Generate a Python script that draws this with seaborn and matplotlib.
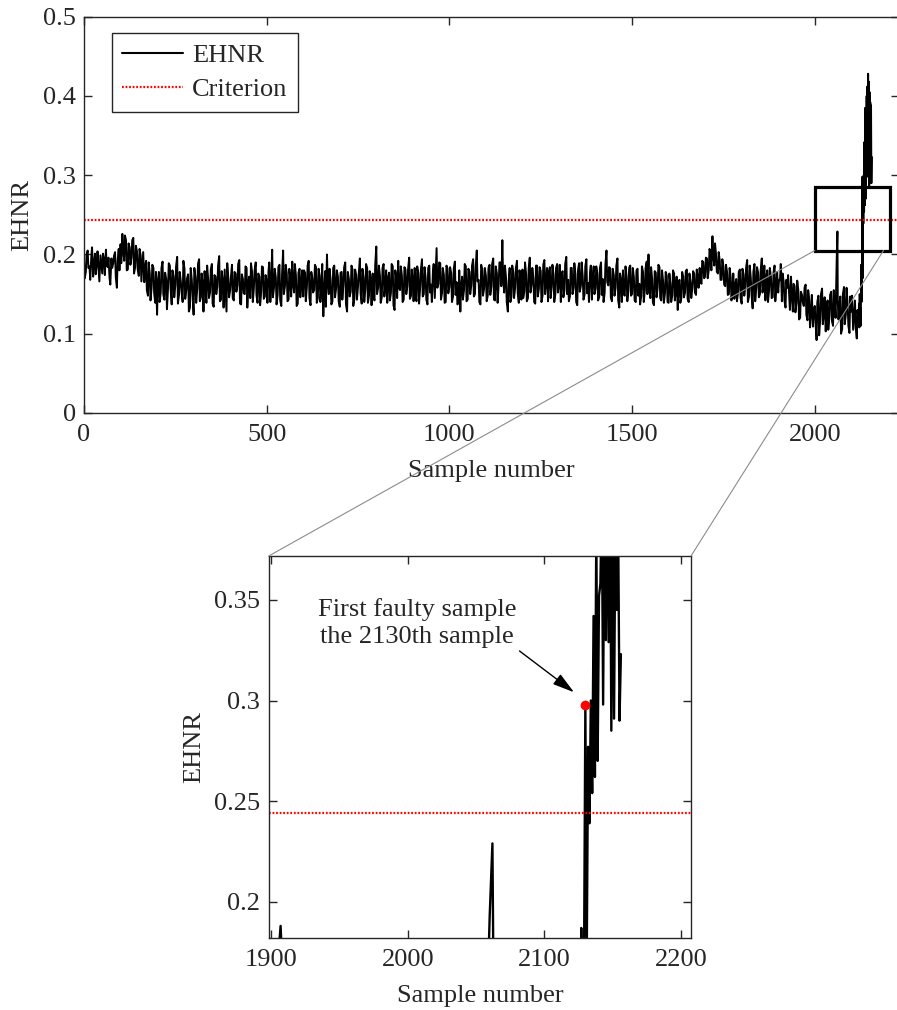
import numpy as np
import pandas as pd
import matplotlib
matplotlib.use("Agg")
import matplotlib.pyplot as plt
import seaborn as sns
from matplotlib.patches import Rectangle, ConnectionPatch
from matplotlib.lines import Line2D
from matplotlib.ticker import FuncFormatter

# ---------------- data ----------------
# EHNR read at samples 0, 5, 10, ..., 2120
ehnr_on5 = [
    0.192, 0.178, 0.205, 0.185, 0.197, 0.172, 0.201, 0.188, 0.181, 0.199, 0.176, 0.193, 0.206, 0.184, 0.170, 0.195, 0.189, 0.203, 0.158, 0.207,
    0.213, 0.226, 0.192, 0.218, 0.181, 0.209, 0.196, 0.221, 0.184, 0.204, 0.173, 0.199, 0.188, 0.165, 0.192, 0.148, 0.176, 0.158, 0.183, 0.139,
    0.124, 0.178, 0.152, 0.191, 0.143, 0.169, 0.158, 0.186, 0.137, 0.172, 0.161, 0.197, 0.149, 0.166, 0.140, 0.182, 0.155, 0.175, 0.133, 0.168,
    0.124, 0.171, 0.157, 0.194, 0.146, 0.163, 0.179, 0.139, 0.168, 0.152, 0.188, 0.134, 0.172, 0.160, 0.198, 0.143, 0.165, 0.181, 0.128, 0.170,
    0.155, 0.187, 0.142, 0.176, 0.161, 0.193, 0.137, 0.169, 0.150, 0.183, 0.164, 0.145, 0.178, 0.158, 0.190, 0.139, 0.172, 0.153, 0.184, 0.147,
    0.166, 0.179, 0.140, 0.206, 0.158, 0.171, 0.149, 0.187, 0.135, 0.205, 0.160, 0.176, 0.143, 0.168, 0.191, 0.152, 0.174, 0.138, 0.182, 0.163,
    0.147, 0.177, 0.159, 0.192, 0.136, 0.170, 0.155, 0.184, 0.145, 0.173, 0.161, 0.122, 0.179, 0.200, 0.150, 0.168, 0.141, 0.186, 0.157, 0.172,
    0.134, 0.178, 0.162, 0.190, 0.128, 0.169, 0.153, 0.181, 0.144, 0.174, 0.160, 0.195, 0.138, 0.171, 0.156, 0.183, 0.148, 0.165, 0.176, 0.142,
    0.210, 0.158, 0.173, 0.146, 0.188, 0.162, 0.139, 0.177, 0.151, 0.185, 0.130, 0.169, 0.192, 0.155, 0.174, 0.143, 0.181, 0.160, 0.196, 0.148,
    0.167, 0.183, 0.141, 0.176, 0.158, 0.194, 0.150, 0.171, 0.137, 0.186, 0.162, 0.178, 0.145, 0.208, 0.163, 0.189, 0.152, 0.174, 0.140, 0.182,
    0.159, 0.176, 0.147, 0.191, 0.165, 0.139, 0.128, 0.172, 0.155, 0.185, 0.143, 0.178, 0.161, 0.194, 0.150, 0.205, 0.168, 0.137, 0.181, 0.157,
    0.173, 0.148, 0.187, 0.160, 0.195, 0.142, 0.176, 0.163, 0.190, 0.218, 0.152, 0.171, 0.128, 0.183, 0.147, 0.177, 0.158, 0.192, 0.139, 0.169,
    0.181, 0.153, 0.175, 0.145, 0.196, 0.162, 0.170, 0.138, 0.186, 0.157, 0.179, 0.148, 0.193, 0.166, 0.141, 0.184, 0.159, 0.175, 0.150, 0.188,
    0.163, 0.140, 0.179, 0.155, 0.197, 0.168, 0.147, 0.183, 0.158, 0.175, 0.136, 0.189, 0.161, 0.172, 0.149, 0.194, 0.164, 0.178, 0.143, 0.185,
    0.157, 0.176, 0.146, 0.190, 0.169, 0.152, 0.205, 0.161, 0.183, 0.141, 0.174, 0.158, 0.195, 0.133, 0.167, 0.180, 0.148, 0.172, 0.155, 0.186,
    0.150, 0.171, 0.140, 0.182, 0.163, 0.147, 0.178, 0.155, 0.191, 0.200, 0.145, 0.169, 0.136, 0.177, 0.158, 0.184, 0.142, 0.166, 0.151, 0.173,
    0.139, 0.163, 0.148, 0.176, 0.155, 0.130, 0.168, 0.145, 0.172, 0.152, 0.181, 0.140, 0.165, 0.158, 0.176, 0.149, 0.170, 0.183, 0.163, 0.190,
    0.172, 0.195, 0.181, 0.201, 0.223, 0.186, 0.199, 0.176, 0.192, 0.168, 0.185, 0.160, 0.178, 0.150, 0.171, 0.156, 0.144, 0.169, 0.152, 0.181,
    0.138, 0.175, 0.160, 0.193, 0.147, 0.170, 0.132, 0.188, 0.158, 0.177, 0.150, 0.195, 0.163, 0.142, 0.180, 0.155, 0.172, 0.146, 0.186, 0.160,
    0.152, 0.170, 0.141, 0.165, 0.133, 0.158, 0.146, 0.172, 0.128, 0.160, 0.139, 0.155, 0.120, 0.149, 0.135, 0.162, 0.117, 0.143, 0.128, 0.109,
    0.135, 0.092, 0.148, 0.118, 0.157, 0.126, 0.103, 0.142, 0.121, 0.153, 0.110, 0.138, 0.193, 0.118, 0.147, 0.106, 0.159, 0.124, 0.137, 0.101,
    0.128, 0.105, 0.142, 0.094, 0.115,
]
# EHNR read at samples 2, 7, 12, ..., 2117
ehnr_on5_plus2 = [
    0.170, 0.199, 0.183, 0.168, 0.209, 0.186, 0.175, 0.204, 0.166, 0.190, 0.201, 0.174, 0.187, 0.196, 0.162, 0.183, 0.198, 0.171, 0.192, 0.180,
    0.189, 0.205, 0.224, 0.180, 0.214, 0.187, 0.218, 0.176, 0.211, 0.181, 0.207, 0.166, 0.203, 0.184, 0.155, 0.190, 0.142, 0.187, 0.151, 0.178,
    0.165, 0.140, 0.183, 0.150, 0.177, 0.131, 0.189, 0.157, 0.180, 0.146, 0.185, 0.138, 0.178, 0.153, 0.192, 0.144, 0.170, 0.128, 0.183, 0.149,
    0.183, 0.139, 0.188, 0.141, 0.176, 0.128, 0.161, 0.186, 0.145, 0.181, 0.138, 0.174, 0.150, 0.186, 0.141, 0.179, 0.133, 0.160, 0.189, 0.146,
    0.171, 0.145, 0.178, 0.153, 0.188, 0.138, 0.175, 0.151, 0.185, 0.133, 0.172, 0.189, 0.140, 0.180, 0.149, 0.176, 0.136, 0.185, 0.144, 0.174,
    0.139, 0.190, 0.160, 0.146, 0.182, 0.137, 0.184, 0.142, 0.175, 0.150, 0.187, 0.141, 0.182, 0.147, 0.163, 0.188, 0.135, 0.177, 0.146, 0.180,
    0.180, 0.141, 0.186, 0.145, 0.178, 0.152, 0.187, 0.139, 0.182, 0.140, 0.188, 0.150, 0.134, 0.165, 0.182, 0.137, 0.183, 0.146, 0.180, 0.141,
    0.177, 0.143, 0.184, 0.137, 0.178, 0.147, 0.186, 0.135, 0.181, 0.143, 0.176, 0.151, 0.182, 0.140, 0.188, 0.139, 0.179, 0.136, 0.150, 0.187,
    0.150, 0.186, 0.139, 0.183, 0.147, 0.180, 0.170, 0.142, 0.188, 0.136, 0.180, 0.145, 0.158, 0.185, 0.140, 0.184, 0.150, 0.182, 0.144, 0.181,
    0.141, 0.150, 0.185, 0.138, 0.181, 0.147, 0.184, 0.143, 0.183, 0.152, 0.140, 0.188, 0.170, 0.158, 0.190, 0.143, 0.183, 0.139, 0.186, 0.151,
    0.184, 0.140, 0.182, 0.149, 0.137, 0.180, 0.161, 0.143, 0.188, 0.141, 0.182, 0.150, 0.186, 0.147, 0.185, 0.166, 0.140, 0.187, 0.148, 0.183,
    0.141, 0.183, 0.149, 0.188, 0.143, 0.185, 0.139, 0.190, 0.160, 0.170, 0.186, 0.140, 0.165, 0.140, 0.186, 0.145, 0.183, 0.151, 0.180, 0.143,
    0.145, 0.190, 0.141, 0.182, 0.152, 0.183, 0.140, 0.186, 0.147, 0.184, 0.140, 0.187, 0.150, 0.183, 0.178, 0.145, 0.187, 0.140, 0.183, 0.152,
    0.187, 0.176, 0.146, 0.188, 0.150, 0.141, 0.183, 0.150, 0.189, 0.140, 0.180, 0.153, 0.190, 0.143, 0.185, 0.151, 0.140, 0.186, 0.171, 0.150,
    0.185, 0.142, 0.183, 0.149, 0.140, 0.187, 0.165, 0.184, 0.145, 0.182, 0.148, 0.186, 0.142, 0.176, 0.140, 0.150, 0.185, 0.141, 0.183, 0.148,
    0.183, 0.142, 0.180, 0.148, 0.137, 0.185, 0.140, 0.183, 0.150, 0.160, 0.184, 0.139, 0.179, 0.146, 0.187, 0.145, 0.180, 0.139, 0.178, 0.140,
    0.176, 0.140, 0.180, 0.142, 0.172, 0.166, 0.139, 0.178, 0.146, 0.179, 0.144, 0.176, 0.145, 0.179, 0.152, 0.181, 0.158, 0.166, 0.192, 0.170,
    0.196, 0.170, 0.207, 0.180, 0.198, 0.214, 0.178, 0.203, 0.168, 0.194, 0.162, 0.187, 0.149, 0.183, 0.142, 0.176, 0.160, 0.141, 0.178, 0.145,
    0.182, 0.148, 0.183, 0.140, 0.186, 0.150, 0.178, 0.141, 0.184, 0.146, 0.180, 0.152, 0.186, 0.171, 0.140, 0.183, 0.145, 0.177, 0.141, 0.178,
    0.166, 0.188, 0.176, 0.142, 0.168, 0.174, 0.130, 0.150, 0.163, 0.127, 0.167, 0.118, 0.153, 0.140, 0.158, 0.124, 0.155, 0.108, 0.149, 0.128,
    0.114, 0.140, 0.098, 0.150, 0.112, 0.146, 0.130, 0.105, 0.149, 0.116, 0.155, 0.120, 0.229, 0.135, 0.100, 0.150, 0.112, 0.158, 0.110, 0.147,
    0.148, 0.120, 0.108, 0.130,
]
extra_samples = [2063]
extra_values = [0.140]
tail_samples = list(range(2121, 2157))
tail_values = [
    0.138, 0.108, 0.150, 0.118, 0.132, 0.110, 0.187, 0.140, 0.165, 0.298,
    0.170, 0.277, 0.239, 0.300, 0.254, 0.342, 0.262, 0.385, 0.270, 0.352,
    0.358, 0.400, 0.298, 0.412, 0.330, 0.428, 0.329, 0.418, 0.285, 0.405,
    0.291, 0.392, 0.345, 0.388, 0.290, 0.323,
]
criterion = 0.244
first_fault_sample = 2130
first_fault_value = 0.298
top_xticks = [0, 500, 1000, 1500, 2000]
top_yticks = [0, 0.1, 0.2, 0.3, 0.4, 0.5]
zoom_xticks = [1900, 2000, 2100, 2200]
zoom_yticks = [0.2, 0.25, 0.3, 0.35]
zoom_box = (2000, 0.205, 2206, 0.285)  # x0, y0, x1, y1 of the marked region

# ---------------- assemble ----------------
s_a = list(np.arange(len(ehnr_on5)) * 5)
s_b = list(np.arange(len(ehnr_on5_plus2)) * 5 + 2)
df = pd.DataFrame({
    "Sample number": s_a + s_b + extra_samples + tail_samples,
    "EHNR": ehnr_on5 + ehnr_on5_plus2 + extra_values + tail_values,
}).sort_values("Sample number").reset_index(drop=True)

sns.set_theme(style="ticks")
FS = 19
plt.rcParams["font.family"] = ["Liberation Serif", "DejaVu Serif"]
plt.rcParams["font.size"] = FS
plt.rcParams["axes.linewidth"] = 1.0
plt.rcParams["axes.edgecolor"] = "#262626"
plt.rcParams["xtick.direction"] = "in"
plt.rcParams["ytick.direction"] = "in"

W, H = 897, 1010
fig = plt.figure(figsize=(W / 100, H / 100), dpi=100)

# top axes
ax1 = fig.add_axes([84 / W, 1 - 413 / H, (898.8 - 84) / W, (413 - 16.7) / H])
# zoom axes
ax2 = fig.add_axes([268.7 / W, 1 - 938 / H, (691 - 268.7) / W, (938 - 556) / H])

fmt = FuncFormatter(lambda v, p: f"{v:g}")

for ax, lw in ((ax1, 1.4), (ax2, 1.7)):
    sns.lineplot(data=df, x="Sample number", y="EHNR", ax=ax, color="black",
                 lw=lw, sort=False, estimator=None, legend=False)
    ax.axhline(criterion, color="red", lw=1.6, ls=(0, (0.8, 0.8)))
    ax.tick_params(axis="x", which="both", direction="in", length=6, width=1,
                   top=True, labelsize=FS, pad=8, color="#262626")
    ax.tick_params(axis="y", which="both", direction="in", length=6, width=1,
                   right=True, labelsize=FS, pad=6, color="#262626")
    ax.yaxis.set_major_formatter(fmt)
    ax.set_xlabel("Sample number", fontsize=FS, labelpad=10)
    ax.set_ylabel("EHNR", fontsize=FS)
    for s in ax.spines.values():
        s.set_visible(True)

ax1.set_xlim(0, 2230)
ax1.set_ylim(0, 0.5)
ax1.set_xticks(top_xticks)
ax1.set_yticks(top_yticks)
ax1.yaxis.set_label_coords(-0.062, 0.5)

ax2.set_xlim(1898.3, 2207.3)
ax2.set_ylim(0.182, 0.3718)
ax2.set_xticks(zoom_xticks)
ax2.set_yticks(zoom_yticks)
ax2.yaxis.set_label_coords(-0.151, 0.5)

# region box on the top axes
x0, y0, x1, y1 = zoom_box
ax1.add_patch(Rectangle((x0, y0), x1 - x0, y1 - y0, fill=False, ec="black", lw=2.3, zorder=5))

# legend
handles = [Line2D([], [], color="black", lw=1.5),
           Line2D([], [], color="red", lw=1.6, ls=(0, (0.8, 0.8)))]
leg = ax1.legend(handles, ["EHNR", "Criterion"], loc="upper left",
                 bbox_to_anchor=(0.034, 0.959), frameon=True, fancybox=False,
                 edgecolor="#262626", framealpha=1, borderaxespad=0,
                 handlelength=2.3, handletextpad=0.35, borderpad=0.4,
                 labelspacing=0.4, fontsize=FS)
leg.get_frame().set_linewidth(1.0)

# first faulty sample
ax2.plot([first_fault_sample], [first_fault_value], "o", color="red", ms=6, zorder=6)
ax2.annotate("First faulty sample\nthe 2130th sample",
             xy=(2121.7, 0.3041), xytext=(2006.8, 0.3385),
             ha="center", va="center", fontsize=FS, linespacing=1.35,
             arrowprops=dict(arrowstyle="-|>,head_length=0.7,head_width=0.2",
                             color="black", lw=1.0, shrinkA=0, shrinkB=0,
                             relpos=(1.0, 0.0)))

# connector lines
for xa, xb in ((x0, 0), (2188, 1)):
    cp = ConnectionPatch(xyA=(xa, y0), coordsA=ax1.transData,
                         xyB=(xb, 1), coordsB=ax2.transAxes,
                         color="#8c8c8c", lw=0.8, zorder=10)
    fig.add_artist(cp)

fig.savefig("out.png", dpi=100)
